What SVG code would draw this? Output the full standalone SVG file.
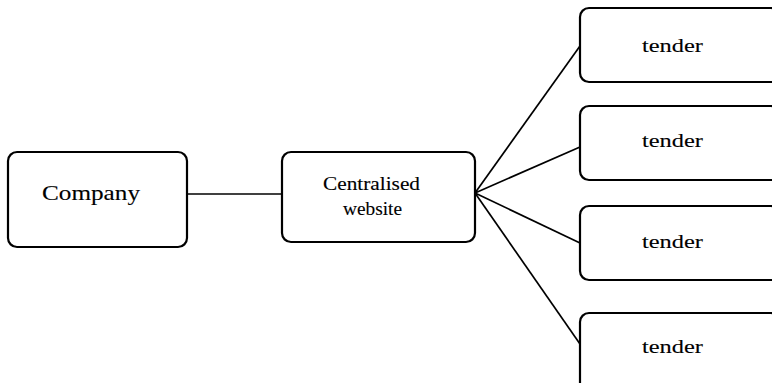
<svg xmlns="http://www.w3.org/2000/svg" width="772" height="383" viewBox="0 0 772 383">
  <style>
    .box { fill: #ffffff; stroke: #000000; stroke-width: 2.2; }
    .edge { stroke: #000000; stroke-width: 1.7; fill: none; }
    .label { font-family: 'Liberation Serif', 'Times New Roman', serif; fill: #000000; stroke: #000000; stroke-width: 0.12; text-anchor: middle; }
  </style>
  <rect width="772" height="383" fill="#ffffff"/>

  <!-- connectors -->
  <g id="connectors">
    <line class="edge" x1="187" y1="194" x2="282" y2="194"/>
    <line class="edge" x1="475" y1="193" x2="580" y2="46"/>
    <line class="edge" x1="475" y1="193" x2="580" y2="147"/>
    <line class="edge" x1="475" y1="193" x2="580" y2="243"/>
    <line class="edge" x1="475" y1="193" x2="580" y2="344"/>
  </g>

  <g id="company">
    <rect class="box" x="8" y="152" width="179" height="95" rx="9"/>
    <text class="label" x="91" y="200" font-size="21" textLength="98" lengthAdjust="spacingAndGlyphs">Company</text>
  </g>

  <g id="website">
    <rect class="box" x="282" y="152" width="193" height="90" rx="9"/>
    <text class="label" x="371.5" y="190" font-size="18" textLength="97" lengthAdjust="spacingAndGlyphs">Centralised</text>
    <text class="label" x="372.5" y="215" font-size="18" textLength="59" lengthAdjust="spacingAndGlyphs">website</text>
  </g>

  <g id="tender1">
    <rect class="box" x="580" y="8" width="200" height="74" rx="9"/>
    <text class="label" x="672.5" y="52" font-size="19" textLength="61" lengthAdjust="spacingAndGlyphs">tender</text>
  </g>

  <g id="tender2">
    <rect class="box" x="580" y="106" width="200" height="74" rx="9"/>
    <text class="label" x="672.5" y="147" font-size="19" textLength="61" lengthAdjust="spacingAndGlyphs">tender</text>
  </g>

  <g id="tender3">
    <rect class="box" x="580" y="206" width="200" height="74" rx="9"/>
    <text class="label" x="672.5" y="248" font-size="19" textLength="61" lengthAdjust="spacingAndGlyphs">tender</text>
  </g>

  <g id="tender4">
    <rect class="box" x="580" y="313" width="200" height="80" rx="9"/>
    <text class="label" x="672.5" y="353" font-size="19" textLength="61" lengthAdjust="spacingAndGlyphs">tender</text>
  </g>
</svg>
